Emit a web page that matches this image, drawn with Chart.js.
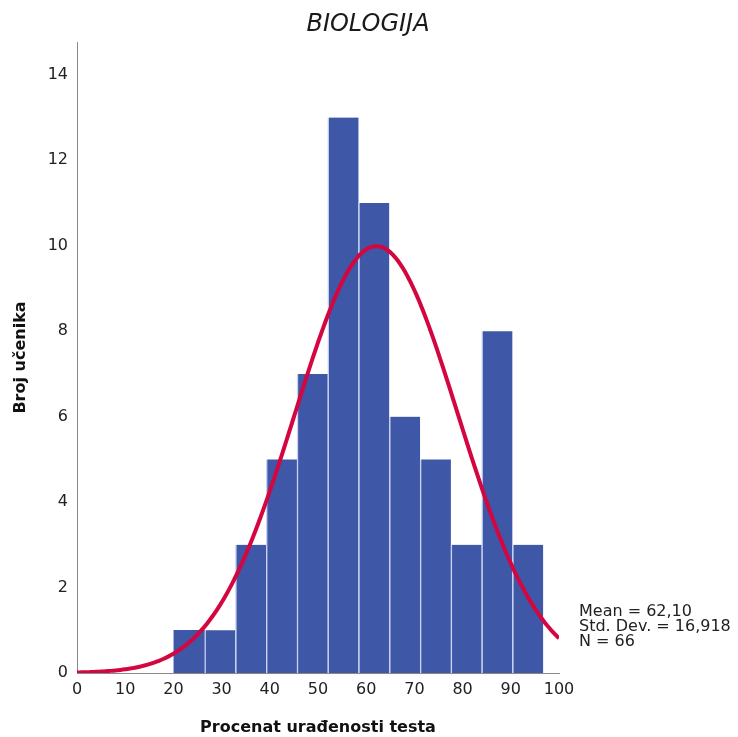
<!DOCTYPE html>
<html lang="sr">
<head>
    <meta charset="UTF-8">
    <title>BIOLOGIJA</title>
    <style>
        html, body {margin: 0; padding: 0; background: #fff;}
        .chart-wrap {width: 738px; height: 737px;}
    </style>
</head>
<body>
    <div class="chart-wrap">
        <canvas id="myChart" width="738" height="737"></canvas>
    </div>

    <script src="https://cdn.jsdelivr.net/npm/chart.js@4.4.1/dist/chart.umd.min.js"></script>
    <script>
// histogram: bin centres (procenat) and counts (broj ucenika)
const binCenters = [23.29, 29.68, 36.06, 42.45, 48.83, 55.22, 61.6, 67.99, 74.38, 80.76, 87.15, 93.53];
const counts = [1, 1, 3, 5, 7, 13, 11, 6, 5, 3, 8, 3];
const binWidth = 6.42;

// summary shown in the chart
const mean = 62.10;
const stdDev = 16.918;
const n = 66;
const statLines = ['Mean = 62,10', 'Std. Dev. = 16,918', 'N = 66'];

const xTicks = [0, 10, 20, 30, 40, 50, 60, 70, 80, 90, 100];
const yTicks = [0, 2, 4, 6, 8, 10, 12, 14];

// fitted normal curve (scaled to counts)
const curve = [];
for (let x = 0; x <= 100; x += 0.5) {
    const z = (x - mean) / stdDev;
    curve.push({x: x, y: n * binWidth / (stdDev * Math.sqrt(2 * Math.PI)) * Math.exp(-0.5 * z * z)});
}

const bars = binCenters.map((c, i) => ({x: c, y: counts[i]}));

// title + statistics text
const textPlugin = {
    id: 'texts',
    afterDraw(chart) {
        const ctx = chart.ctx;
        ctx.save();
        ctx.fillStyle = '#1a1a1a';
        ctx.font = 'italic 24px "DejaVu Sans"';
        ctx.textAlign = 'center';
        ctx.textBaseline = 'middle';
        ctx.fillText('BIOLOGIJA', 368, 25);

        ctx.font = '16px "DejaVu Sans"';
        ctx.textAlign = 'left';
        ctx.textBaseline = 'alphabetic';
        ctx.fillStyle = '#222';
        statLines.forEach((t, i) => ctx.fillText(t, 579, 616 + i * 15));
        ctx.restore();
    }
};

const ctx = document.getElementById('myChart').getContext('2d');

new Chart(ctx, {
    type: 'bar',
    plugins: [textPlugin],
    data: {
        datasets: [{
            type: 'line',
            data: curve,
            borderColor: '#D3063F',
            borderWidth: 4,
            pointRadius: 0,
            fill: false,
            order: 0
        }, {
            type: 'bar',
            data: bars,
            backgroundColor: '#3E57A7',
            borderColor: '#C9D2F0',
            borderWidth: (c) => ({left: c.dataIndex > 0 ? 1.5 : 0, right: 0, top: 0, bottom: 0}),
            borderSkipped: false,
            barPercentage: 1,
            categoryPercentage: 1,
            order: 1
        }]
    },
    options: {
        responsive: false,
        animation: false,
        layout: {padding: {top: 42, right: 179, left: 0, bottom: 0}},
        plugins: {
            legend: {display: false},
            tooltip: {enabled: false}
        },
        scales: {
            x: {
                type: 'linear',
                min: 0,
                max: 100,
                offset: false,
                grid: {display: false, drawTicks: false, offset: false},
                border: {display: true, color: '#888', width: 1},
                afterBuildTicks: (s) => { s.ticks = xTicks.map(v => ({value: v})); },
                afterFit: (s) => { s.height = 64; },
                ticks: {
                    color: '#222',
                    font: {family: 'DejaVu Sans', size: 16},
                    padding: 7,
                    maxRotation: 0
                },
                title: {
                    display: true,
                    text: 'Procenat urađenosti testa',
                    color: '#111',
                    font: {family: 'DejaVu Sans', size: 16, weight: 'bold'},
                    padding: {top: 0, bottom: 0}
                }
            },
            y: {
                min: 0,
                max: 14.77,
                grid: {display: false, drawTicks: false},
                border: {display: true, color: '#888', width: 1},
                afterBuildTicks: (s) => { s.ticks = yTicks.map(v => ({value: v})); },
                afterFit: (s) => { s.width = 77; },
                ticks: {
                    color: '#222',
                    font: {family: 'DejaVu Sans', size: 16},
                    padding: 9
                },
                title: {
                    display: true,
                    text: 'Broj učenika',
                    color: '#111',
                    font: {family: 'DejaVu Sans', size: 16, weight: 'bold'},
                    padding: {top: 11, bottom: 0}
                }
            }
        }
    }
});
    </script>
</body>
</html>
